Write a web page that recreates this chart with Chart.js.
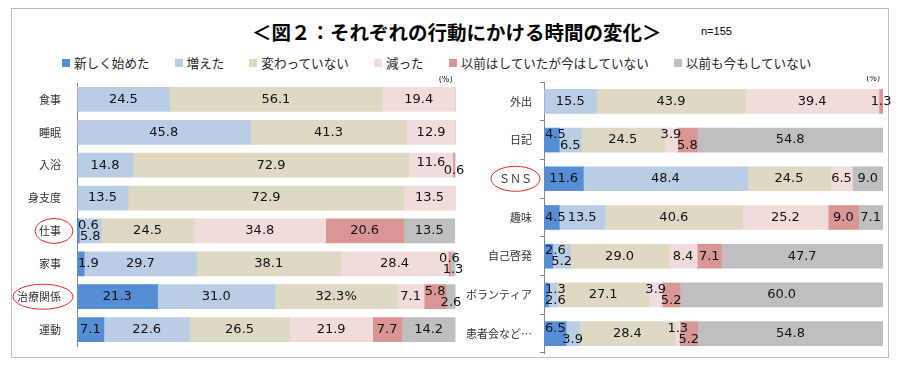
<!DOCTYPE html>
<html lang="ja">
<head>
<meta charset="utf-8">
<script src="https://cdn.jsdelivr.net/npm/chart.js@4.4.1/dist/chart.umd.min.js"></script>
<style>
  body { margin: 0; background: #fff; }
  #page { position: relative; width: 903px; height: 368px; overflow: hidden; font-family: "Noto Sans CJK JP", sans-serif; }
  #frame { position: absolute; left: 11px; top: 8px; width: 878px; height: 350px; border: 1px solid #bfbfbf; box-sizing: border-box; }
  #title { position: absolute; left: 252px; top: 21px; font-size: 19.5px; line-height: 22px; font-weight: bold; color: #000; white-space: nowrap; }
  #nval { position: absolute; left: 701px; top: 25px; font: 11px "Liberation Sans", sans-serif; color: #000; }
  #legend { position: absolute; left: 62px; top: 55px; display: flex; font-size: 12.6px; line-height: 16px; color: #262626; white-space: nowrap; }
  #legend .item { display: flex; align-items: center; margin-right: 25px; }
  #legend .box { width: 8px; height: 8px; margin-right: 4px; }
  #leftBox { position: absolute; left: 0; top: 76px; width: 480px; height: 282px; }
  #rightBox { position: absolute; left: 460px; top: 76px; width: 443px; height: 282px; }
</style>
</head>
<body>
<div id="page">
  <div id="frame"></div>
  <div id="title">＜図２：それぞれの行動にかける時間の変化＞</div>
  <div id="nval">n=155</div>
  <div id="legend"></div>
  <div id="leftBox"><canvas id="leftChart"></canvas></div>
  <div id="rightBox"><canvas id="rightChart"></canvas></div>
</div>
<script>
// カテゴリ
const leftCats = ['食事', '睡眠', '入浴', '身支度', '仕事', '家事', '治療関係', '運動'];
const rightCats = ['外出', '日記', 'ＳＮＳ', '趣味', '自己啓発', 'ボランティア', '患者会など…'];

// 系列名と色
const seriesNames = ['新しく始めた', '増えた', '変わっていない', '減った', '以前はしていたが今はしていない', '以前も今もしていない'];
const seriesColors = ['#558ed5', '#b9cde5', '#ddd9c3', '#f2dcdb', '#d99694', '#bfbfbf'];

// 左グラフの値 (%)
const newStartL = [0, 0, 0, 0, 0.6, 1.9, 21.3, 7.1];
const increasedL = [24.5, 45.8, 14.8, 13.5, 5.8, 29.7, 31.0, 22.6];
const unchangedL = [56.1, 41.3, 72.9, 72.9, 24.5, 38.1, 32.3, 26.5];
const decreasedL = [19.4, 12.9, 11.6, 13.5, 34.8, 28.4, 7.1, 21.9];
const stoppedL = [0, 0, 0.6, 0, 20.6, 0.6, 5.8, 7.7];
const neverL = [0, 0, 0, 0, 13.5, 1.3, 2.6, 14.2];

// 右グラフの値 (%)
const newStartR = [0, 4.5, 11.6, 4.5, 2.6, 1.3, 6.5];
const increasedR = [15.5, 6.5, 48.4, 13.5, 5.2, 2.6, 3.9];
const unchangedR = [43.9, 24.5, 24.5, 40.6, 29.0, 27.1, 28.4];
const decreasedR = [39.4, 3.9, 6.5, 25.2, 8.4, 3.9, 1.3];
const stoppedR = [1.3, 5.8, 0, 9.0, 7.1, 5.2, 5.2];
const neverR = [0, 54.8, 9.0, 7.1, 47.7, 60.0, 54.8];

// 赤丸で囲む項目
const circledL = ['仕事', '治療関係'];
const circledR = ['ＳＮＳ'];
// 元の図で「%」付きになっているラベル [項目, 系列番号]
const pctMarked = [['治療関係', 2]];

// 凡例
const legendEl = document.getElementById('legend');
legendEl.innerHTML = seriesNames.map((s, i) =>
  `<div class="item"><div class="box" style="background:${seriesColors[i]}"></div>${s}</div>`).join('');

function makeDatasets(arrs) {
  return arrs.map((data, i) => ({
    label: seriesNames[i],
    data: data,
    backgroundColor: seriesColors[i],
    borderWidth: 0,
    barThickness: 24
  }));
}

// 値ラベル（重なるものは上下にずらす）
const valueLabels = {
  id: 'valueLabels',
  afterDatasetsDraw(chart) {
    const ctx = chart.ctx;
    const area = chart.chartArea;
    ctx.save();
    ctx.font = '13px "DejaVu Sans"';
    ctx.fillStyle = '#111';
    ctx.textAlign = 'center';
    ctx.textBaseline = 'middle';
    chart.data.labels.forEach((cat, i) => {
      const segs = [];
      chart.data.datasets.forEach((ds, d) => {
        const v = ds.data[i];
        if (!v) return;
        const bar = chart.getDatasetMeta(d).data[i];
        let text = v.toFixed(1);
        if (pctMarked.some(p => p[0] === cat && p[1] === d)) text += '%';
        const tw = ctx.measureText(text).width;
        const w = Math.abs(bar.x - bar.base);
        const cx = Math.max((bar.x + bar.base) / 2, area.left + tw / 2 + 1);
        segs.push({ text, tw, w, x: cx, y: bar.y, dy: 0 });
      });
      segs.forEach((s, k) => {
        const prev = segs[k - 1];
        if (!prev) return;
        if (s.x - prev.x < (s.tw + prev.tw) / 2 + 1) {
          if (prev.dy === 0) {
            prev.dy = prev.w > prev.tw + 4 ? -3 : -5.5;
            s.dy = 5.5;
          } else {
            s.dy = -prev.dy;
          }
        }
      });
      segs.forEach(s => ctx.fillText(s.text, s.x, s.y + s.dy));
    });
    // (%) 表記
    ctx.font = '8px "DejaVu Sans"';
    ctx.fillStyle = '#222';
    ctx.textAlign = 'right';
    ctx.fillText('(%)', area.right - 3, area.top - 3);
    ctx.restore();
  }
};

// 赤い楕円
const redCircles = {
  id: 'redCircles',
  afterDraw(chart, args, opts) {
    const ctx = chart.ctx;
    const yScale = chart.scales.y;
    const labelRight = chart.chartArea.left - opts.gap;
    ctx.save();
    ctx.font = '11px "Noto Sans CJK JP"';
    ctx.strokeStyle = '#e8262a';
    ctx.lineWidth = 1;
    opts.items.forEach(name => {
      const idx = chart.data.labels.indexOf(name);
      if (idx < 0) return;
      const w = ctx.measureText(name).width;
      const cy = yScale.getPixelForValue(idx);
      ctx.beginPath();
      ctx.ellipse(labelRight - w / 2, cy, w / 2 + 8, 12.5, 0, 0, Math.PI * 2);
      ctx.stroke();
    });
    ctx.restore();
  }
};

function makeChart(id, cats, arrs, yWidth, tickMarks, padding, circled) {
  return new Chart(document.getElementById(id), {
    type: 'bar',
    data: { labels: cats, datasets: makeDatasets(arrs) },
    plugins: [valueLabels, redCircles],
    options: {
      indexAxis: 'y',
      responsive: true,
      maintainAspectRatio: false,
      animation: false,
      layout: { padding: padding },
      plugins: {
        legend: { display: false },
        tooltip: { enabled: false },
        redCircles: { items: circled, gap: 12 }
      },
      scales: {
        x: { stacked: true, min: 0, max: 100, display: false },
        y: {
          stacked: true,
          afterFit(scale) {
            scale.width = yWidth;
            scale.paddingTop = 0;
            scale.paddingBottom = 0;
          },
          grid: { display: tickMarks, drawOnChartArea: false, tickLength: 4, color: '#868686' },
          border: { display: true, color: '#868686', width: 1 },
          ticks: {
            padding: tickMarks ? 8 : 12,
            color: '#333',
            font: { family: '"Noto Sans CJK JP"', size: 11 }
          }
        }
      }
    }
  });
}

makeChart('leftChart', leftCats, [newStartL, increasedL, unchangedL, decreasedL, stoppedL, neverL],
  77, false, { top: 7, right: 24.5, bottom: 12, left: 0 }, circledL);
makeChart('rightChart', rightCats, [newStartR, increasedR, unchangedR, decreasedR, stoppedR, neverR],
  84, true, { top: 6, right: 20, bottom: 5, left: 0 }, circledR);
</script>
</body>
</html>
